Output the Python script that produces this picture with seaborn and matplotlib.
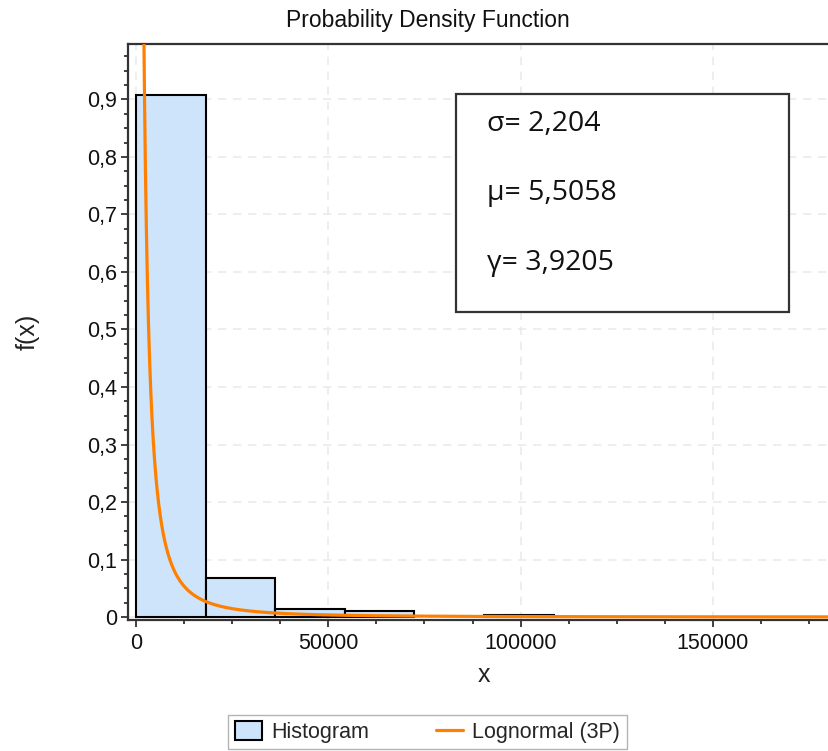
import numpy as np
import matplotlib
matplotlib.use("Agg")
import matplotlib.pyplot as plt
import seaborn as sns
from matplotlib.patches import Patch
from matplotlib.lines import Line2D
from matplotlib.ticker import FixedLocator, MultipleLocator, FuncFormatter

# Histogram: bin edges and relative frequencies
bin_edges = [0, 18100, 36200, 54300, 72400, 90500, 108600]
rel_freq = [0.907, 0.0673, 0.0134, 0.0099, 0.0, 0.003]

# Fitted Lognormal (3P) parameters
sigma = 2.204
mu = 5.5058
gamma = 3.9205

x_ticks = [0, 50000, 100000, 150000]
y_ticks = [0, 0.1, 0.2, 0.3, 0.4, 0.5, 0.6, 0.7, 0.8, 0.9]

title = "Probability Density Function"
x_label = "x"
y_label = "f(x)"
legend_labels = ["Histogram", "Lognormal (3P)"]

sns.set_style("white")
plt.rcParams["font.family"] = ["Liberation Sans", "DejaVu Sans"]

W, H = 829, 751
fig = plt.figure(figsize=(W / 100, H / 100), dpi=100)
ax = fig.add_axes([128 / W, 1 - 620 / H, (W - 128) / W, (620 - 44) / H])

bar_color = "#cde4fb"
line_color = "#ff8000"
spine_color = "#333333"

# histogram bars
mids = [(a + b) / 2 for a, b in zip(bin_edges[:-1], bin_edges[1:])]
sns.histplot(x=mids, weights=rel_freq, bins=bin_edges, stat="count",
             color=bar_color, edgecolor="black", linewidth=1.5, alpha=1.0,
             ax=ax, zorder=2)
for p in ax.patches:
    if p.get_height() == 0:
        p.set_visible(False)

# fitted density scaled to the bin width
bw = bin_edges[1] - bin_edges[0]
xs = np.unique(np.concatenate([
    gamma + np.geomspace(1, 25000, 2000),
    np.linspace(gamma + 25000, 181000, 1500),
]))
z = (np.log(xs - gamma) - mu) / sigma
pdf = np.exp(-0.5 * z ** 2) / ((xs - gamma) * sigma * np.sqrt(2 * np.pi))
sns.lineplot(x=xs, y=pdf * bw, color=line_color, lw=2.3, ax=ax, zorder=3,
             sort=False, estimator=None)

ax.set_xlim(-2080, -2080 + 701 * 260)
ax.set_ylim(-0.0052, 0.9965)

ax.xaxis.set_major_locator(FixedLocator(x_ticks))
ax.yaxis.set_major_locator(FixedLocator(y_ticks))
ax.xaxis.set_minor_locator(MultipleLocator(12500))
ax.yaxis.set_minor_locator(MultipleLocator(0.025))
ax.xaxis.set_major_formatter(FuncFormatter(lambda v, p: f"{int(round(v))}"))
ax.yaxis.set_major_formatter(
    FuncFormatter(lambda v, p: "0" if abs(v) < 1e-9 else f"{v:.1f}".replace(".", ",")))

ax.tick_params(axis="both", which="major", direction="out", length=4.7,
               width=1.3, color=spine_color, labelsize=15.5, labelcolor="#111111")
ax.tick_params(axis="x", which="major", pad=5)
ax.tick_params(axis="y", which="major", pad=3)
ax.tick_params(axis="both", which="minor", direction="out", length=3,
               width=1.3, color=spine_color)
ax.tick_params(left=True, bottom=True, which="both")

ax.grid(True, which="major", color="#ebebeb", linestyle=(0, (5, 4)), lw=1.2, zorder=0)
ax.set_axisbelow(True)

for side in ["left", "bottom", "top"]:
    ax.spines[side].set_visible(True)
    ax.spines[side].set_color(spine_color)
    ax.spines[side].set_linewidth(1.6)
ax.spines["right"].set_visible(False)

ax.set_xlabel("")
ax.set_ylabel("")

fig.text(428 / W, 1 - 20 / H, title, ha="center", va="center", fontsize=16.5, color="#111111")
fig.text(484 / W, 1 - 675 / H, x_label, ha="center", va="center", fontsize=18, color="#222222")
fig.text(28 / W, 1 - 332 / H, y_label, ha="center", va="center", rotation=90,
         fontsize=18, color="#222222")

# parameter box
box_ax_x0 = 456 / W
box_ax_y0 = 1 - 312 / H
box = plt.Rectangle((box_ax_x0, box_ax_y0), (789 - 456) / W, (312 - 94) / H,
                    transform=fig.transFigure, facecolor="white",
                    edgecolor=spine_color, lw=1.6, zorder=5)
fig.patches.append(box)
param_lines = [f"σ= {sigma:.3f}".replace(".", ","),
               f"μ= {mu:.4f}".replace(".", ","),
               f"γ= {gamma:.4f}".replace(".", ",")]
for txt, yc in zip(param_lines, [124, 193, 263]):
    fig.text(487 / W, 1 - yc / H, txt, ha="left", va="center", fontsize=20.5,
             family=["Open Sans", "DejaVu Sans"], color="#111111", zorder=6)

handles = [Patch(facecolor=bar_color, edgecolor="black", lw=1.5),
           Line2D([0], [0], color=line_color, lw=2.3)]
leg = fig.legend(handles, legend_labels, loc="center", bbox_to_anchor=(427.5 / W, 1 - 732 / H),
                 ncol=2, frameon=True, fancybox=False, fontsize=15.5,
                 handlelength=1.25, handleheight=1.0, handletextpad=0.45,
                 columnspacing=3.1, borderpad=0.3, borderaxespad=0)
leg.get_frame().set_edgecolor("#a0a0a0")
leg.get_frame().set_linewidth(1.0)

fig.savefig("out.png", dpi=100)
